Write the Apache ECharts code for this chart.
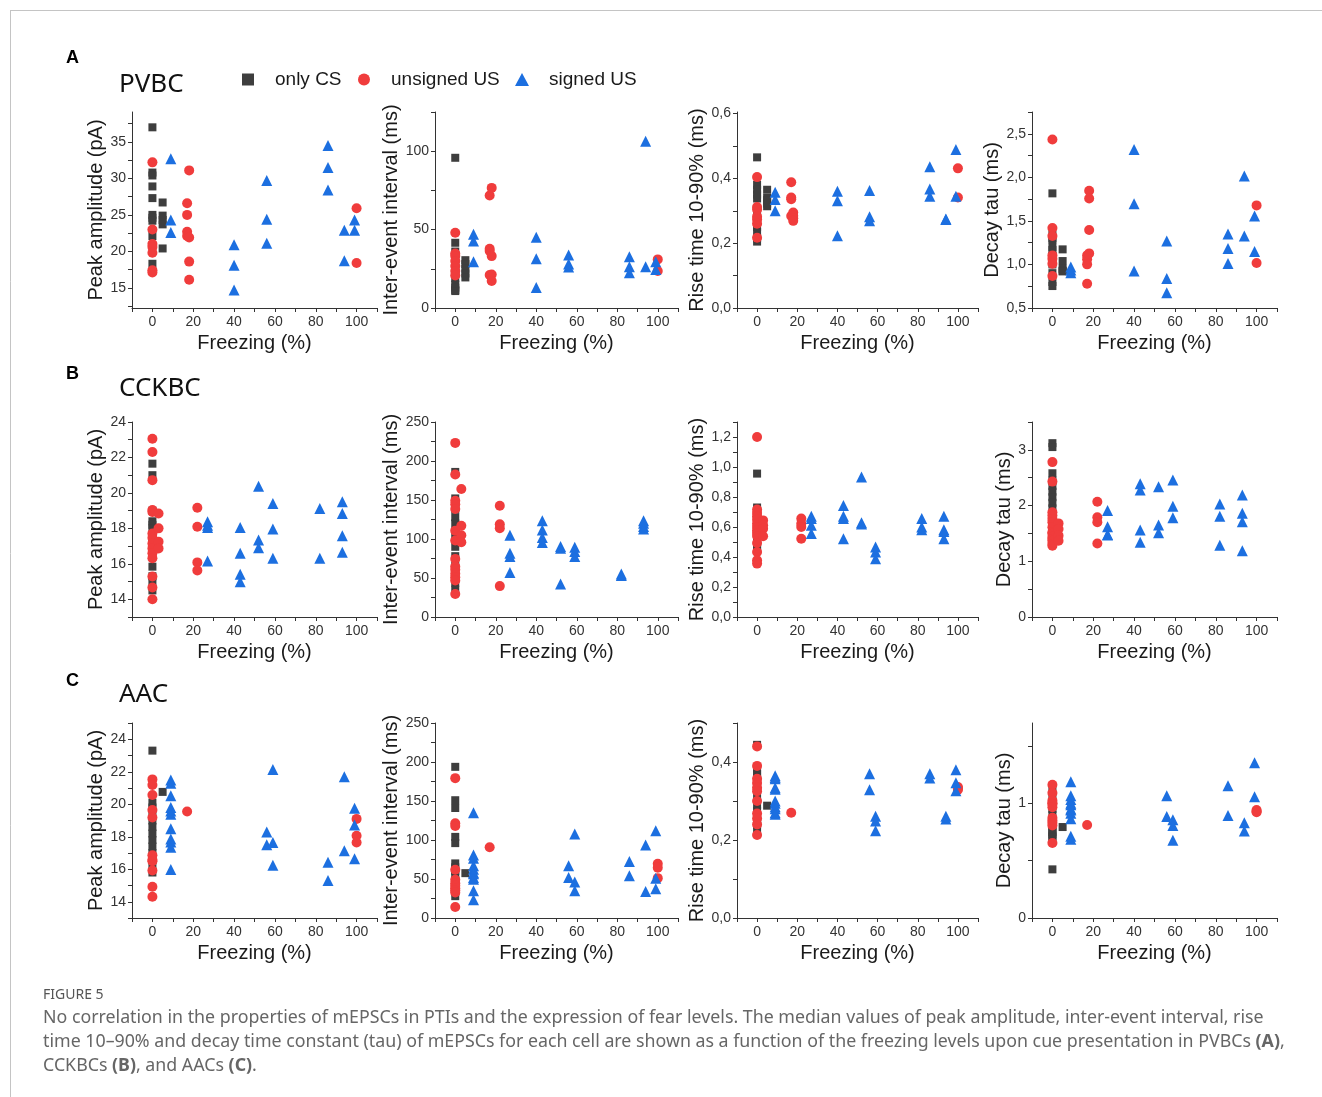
<!DOCTYPE html>
<html><head><meta charset="utf-8">
<script src="https://cdn.jsdelivr.net/npm/echarts@6/dist/echarts.min.js"></script>
<style>html,body{margin:0;padding:0;background:#fff}#c{width:1322px;height:1097px}</style>
</head><body><div id="c"></div>
<script>
// ---------- DATA (x = freezing %, y = value) ----------
// A: PVBC
const pv_amp_cs = [[0,37.0],[0,30.8],[0,30.4],[0,28.9],[0,27.3],[0,25.0],[0,24.6],[0,24.2],[0,22.1],[0,20.8],[0,18.3],[5,26.7],[5,24.9],[5,24.3],[5,23.7],[5,20.4]];
const pv_amp_us = [[0,32.2],[0,23.0],[0,21.0],[0,20.6],[0,19.8],[0,17.4],[0,17.1],[17,26.6],[17,25.0],[17,22.7],[17,22.1],[18,31.1],[18,21.9],[18,18.6],[18,16.1],[100,25.9],[100,18.4]];
const pv_amp_ss = [[9,32.7],[9,24.3],[9,22.6],[40,20.9],[40,18.1],[40,14.7],[56,29.7],[56,24.4],[56,21.1],[86,34.5],[86,31.5],[86,28.4],[94,22.9],[94,18.7],[99,24.3],[99,22.9]];

const pv_iei_cs = [[0,95.8],[0,41.6],[0,36],[0,31],[0,27],[0,23],[0,19],[0,15],[0,13],[0,11.5],[0,10.8],[5,30.5],[5,28],[5,25],[5,22],[5,19.5]];
const pv_iei_us = [[0,48.0],[0,34.8],[0,33.1],[0,30.0],[0,26.8],[0,23.6],[0,20.8],[17,71.8],[17,37.8],[17,36.3],[17,21.0],[18,76.6],[18,33.1],[18,21.4],[18,17.2],[100,31.0],[100,23.6]];
const pv_iei_ss = [[9,47.1],[9,42.7],[9,29.5],[40,45.2],[40,31.4],[40,13.0],[56,33.8],[56,28.0],[56,26.1],[86,32.7],[86,26.3],[86,22.5],[94,106.4],[94,26.3],[99,29.5],[99,24.6]];

const pv_rise_cs = [[0,0.465],[0,0.38],[0,0.365],[0,0.35],[0,0.338],[0,0.30],[0,0.27],[0,0.25],[0,0.235],[0,0.215],[0,0.205],[5,0.365],[5,0.34],[5,0.333],[5,0.322],[5,0.314]];
const pv_rise_us = [[0,0.404],[0,0.312],[0,0.304],[0,0.282],[0,0.273],[0,0.26],[0,0.217],[17,0.388],[17,0.341],[17,0.336],[17,0.284],[18,0.295],[18,0.285],[18,0.277],[18,0.269],[100,0.431],[100,0.341]];
const pv_rise_ss = [[9,0.357],[9,0.335],[9,0.300],[40,0.360],[40,0.331],[40,0.223],[56,0.363],[56,0.282],[56,0.269],[86,0.436],[86,0.367],[86,0.345],[94,0.273],[94,0.275],[99,0.489],[99,0.345]];

const pv_tau_cs = [[0,1.816],[0,1.345],[0,1.30],[0,1.288],[0,1.2],[0,1.165],[0,1.1],[0,1.0],[0,0.9],[0,0.798],[0,0.752],[5,1.173],[5,1.039],[5,0.95],[5,0.928],[5,0.92]];
const pv_tau_us = [[0,2.435],[0,1.418],[0,1.326],[0,1.104],[0,1.066],[0,1.009],[0,0.867],[17,1.104],[17,1.06],[17,1.001],[17,0.779],[18,1.846],[18,1.758],[18,1.395],[18,1.127],[100,1.678],[100,1.016]];
const pv_tau_ss = [[9,0.97],[9,0.936],[9,0.905],[40,2.32],[40,1.697],[40,0.924],[56,1.269],[56,0.84],[56,0.676],[86,1.349],[86,1.184],[86,1.012],[94,2.014],[94,1.326],[99,1.555],[99,1.15]];

// B: CCKBC
const cck_amp_cs = [[0,21.65],[0,21.0],[0,19.0],[0,18.4],[0,18.2],[0,18.0],[0,17.5],[0,17.2],[0,16.8],[0,16.5],[0,15.84],[0,15.3],[0,15.0],[0,14.5]];
const cck_amp_us = [[0,23.06],[0,22.31],[0,20.72],[0,19.03],[0,18.93],[0,17.71],[0,17.47],[0,17.15],[0,16.87],[0,16.59],[0,16.31],[0,15.28],[0,14.66],[0,14.0],[3,18.84],[3,18.0],[3,17.25],[3,16.87],[22,19.16],[22,18.09],[22,16.08],[22,15.63]];
const cck_amp_ss = [[27,18.37],[27,18.18],[27,18.05],[27,16.16],[43,18.05],[43,16.59],[43,15.41],[43,14.99],[52,20.38],[52,17.34],[52,16.91],[59,19.4],[59,17.96],[59,16.31],[82,19.12],[82,16.31],[93,19.5],[93,18.84],[93,17.58],[93,16.65]];

const cck_iei_cs = [[0,186],[0,152],[0,146],[0,138],[0,128],[0,120],[0,110],[0,100],[0,90],[0,78],[0,66],[0,55],[0,44],[0,35]];
const cck_iei_us = [[0,223.2],[0,182.7],[0,149],[0,144.4],[0,138.4],[0,110.7],[0,98],[0,74.5],[0,64.7],[0,60.5],[0,55.4],[0,51.1],[0,46.8],[0,29.4],[3,164],[3,117],[3,104.8],[3,95.8],[22,142.7],[22,118.8],[22,113.7],[22,39.6]];
const cck_iei_ss = [[27,104.8],[27,81.8],[27,77.5],[27,57.1],[43,123.5],[43,111.6],[43,101.8],[43,95.4],[52,90.3],[52,88.2],[52,42.2],[59,89.4],[59,83.9],[59,77.5],[82,55],[82,53.2],[93,123.5],[93,120.1],[93,116],[93,112.9]];

const cck_rise_cs = [[0,0.956],[0,0.73],[0,0.71],[0,0.69],[0,0.66],[0,0.64],[0,0.62],[0,0.6],[0,0.58],[0,0.55],[0,0.52],[0,0.5],[0,0.47],[0,0.45]];
const cck_rise_us = [[0,1.2],[0,0.716],[0,0.693],[0,0.671],[0,0.649],[0,0.622],[0,0.6],[0,0.578],[0,0.56],[0,0.54],[0,0.493],[0,0.433],[0,0.378],[0,0.356],[3,0.644],[3,0.611],[3,0.589],[3,0.538],[22,0.656],[22,0.622],[22,0.6],[22,0.522]];
const cck_rise_ss = [[27,0.671],[27,0.656],[27,0.611],[27,0.556],[43,0.744],[43,0.671],[43,0.656],[43,0.522],[52,0.933],[52,0.629],[52,0.62],[59,0.467],[59,0.433],[59,0.389],[82,0.656],[82,0.6],[82,0.582],[93,0.671],[93,0.582],[93,0.57],[93,0.522]];

const cck_tau_cs = [[0,3.12],[0,3.05],[0,2.58],[0,2.45],[0,2.35],[0,2.25],[0,2.15],[0,2.05],[0,1.95],[0,1.85],[0,1.75],[0,1.65],[0,1.55],[0,1.45]];
const cck_tau_us = [[0,2.78],[0,2.43],[0,1.88],[0,1.82],[0,1.76],[0,1.7],[0,1.61],[0,1.52],[0,1.5],[0,1.44],[0,1.4],[0,1.37],[0,1.31],[0,1.28],[3,1.68],[3,1.58],[3,1.46],[3,1.37],[22,2.07],[22,1.79],[22,1.70],[22,1.32]];
const cck_tau_ss = [[27,1.91],[27,1.62],[27,1.48],[27,1.47],[43,2.39],[43,2.28],[43,1.56],[43,1.34],[52,2.34],[52,1.65],[52,1.51],[59,2.46],[59,1.99],[59,1.78],[82,2.03],[82,1.81],[82,1.29],[93,2.19],[93,1.86],[93,1.71],[93,1.19]];

// C: AAC
const aac_amp_cs = [[0,23.3],[0,20.1],[0,19.8],[0,19.4],[0,19.0],[0,18.6],[0,18.2],[0,17.8],[0,17.4],[0,17.0],[0,16.6],[0,16.2],[0,15.8],[5,20.76]];
const aac_amp_us = [[0,21.53],[0,21.18],[0,20.57],[0,19.65],[0,19.18],[0,16.86],[0,16.59],[0,16.49],[0,15.92],[0,14.92],[0,14.31],[17,19.55],[100,19.1],[100,18.06],[100,17.65]];
const aac_amp_ss = [[9,21.49],[9,21.29],[9,20.53],[9,19.8],[9,19.59],[9,19.39],[9,18.49],[9,17.86],[9,17.67],[9,17.35],[9,15.98],[56,18.29],[56,17.51],[59,22.14],[59,17.65],[59,16.24],[86,16.43],[86,15.31],[94,21.69],[94,17.14],[99,19.76],[99,18.73],[99,16.65]];

const aac_iei_cs = [[0,193.8],[0,151],[0,141],[0,104],[0,96],[0,70],[0,65],[0,60],[0,55],[0,48],[0,40],[0,34],[0,28],[5,57.5]];
const aac_iei_us = [[0,179.3],[0,121.4],[0,118],[0,61.8],[0,49],[0,44.7],[0,41.3],[0,38.3],[0,35.5],[0,32.8],[0,14.1],[17,90.7],[100,69.4],[100,64.5],[100,51.1]];
const aac_iei_ss = [[9,135],[9,80.9],[9,76.7],[9,66.9],[9,62.6],[9,58],[9,56.6],[9,52],[9,49.8],[9,34.9],[9,23.4],[56,66.9],[56,52],[59,107.8],[59,46],[59,34.9],[86,72.4],[86,54.1],[94,93.7],[94,34.1],[99,112],[99,51.1],[99,37.5]];

const aac_rise_cs = [[0,0.444],[0,0.38],[0,0.37],[0,0.36],[0,0.35],[0,0.33],[0,0.31],[0,0.29],[0,0.275],[0,0.26],[0,0.25],[0,0.24],[0,0.228],[5,0.288]];
const aac_rise_us = [[0,0.44],[0,0.39],[0,0.357],[0,0.346],[0,0.334],[0,0.325],[0,0.3],[0,0.268],[0,0.255],[0,0.24],[0,0.213],[17,0.27],[100,0.336],[100,0.332],[100,0.329]];
const aac_rise_ss = [[9,0.365],[9,0.36],[9,0.357],[9,0.334],[9,0.33],[9,0.3],[9,0.294],[9,0.285],[9,0.28],[9,0.27],[9,0.266],[56,0.37],[56,0.329],[59,0.261],[59,0.249],[59,0.224],[86,0.37],[86,0.359],[94,0.261],[94,0.254],[99,0.38],[99,0.347],[99,0.326]];

const aac_tau_cs = [[0,1.11],[0,1.05],[0,1.0],[0,0.95],[0,0.9],[0,0.85],[0,0.8],[0,0.77],[0,0.75],[0,0.73],[0,0.71],[0,0.7],[0,0.424],[5,0.793]];
const aac_tau_us = [[0,1.161],[0,1.089],[0,1.023],[0,1.0],[0,0.994],[0,0.965],[0,0.873],[0,0.85],[0,0.83],[0,0.807],[0,0.654],[17,0.81],[100,0.942],[100,0.93],[100,0.922]];
const aac_tau_ss = [[9,1.187],[9,1.066],[9,1.032],[9,1.0],[9,0.988],[9,0.95],[9,0.942],[9,0.914],[9,0.865],[9,0.712],[9,0.686],[56,1.066],[56,0.885],[59,0.856],[59,0.807],[59,0.677],[86,1.153],[86,0.893],[94,0.83],[94,0.758],[99,1.354],[99,1.058]];

// ---------- TICKS / LABELS ----------
const xTicks = [-10,0,10,20,30,40,50,60,70,80,90,100,110];
const xLabels = [0,20,40,60,80,100];
const pvAmpTicks = [12.5,15,17.5,20,22.5,25,27.5,30,32.5,35,37.5];
const pvAmpLabels = [15,20,25,30,35];
const pvIeiTicks = [0,25,50,75,100,125];
const pvIeiLabels = [0,50,100];
const pvRiseTicks = [0,0.1,0.2,0.3,0.4,0.5,0.6];
const pvRiseLabels = [0,0.2,0.4,0.6];
const pvTauTicks = [0.5,0.75,1,1.25,1.5,1.75,2,2.25,2.5,2.75];
const pvTauLabels = [0.5,1,1.5,2,2.5];
const cckAmpTicks = [13,14,15,16,17,18,19,20,21,22,23,24];
const cckAmpLabels = [14,16,18,20,22,24];
const cckIeiTicks = [0,25,50,75,100,125,150,175,200,225,250];
const cckIeiLabels = [0,50,100,150,200,250];
const cckRiseTicks = [0,0.1,0.2,0.3,0.4,0.5,0.6,0.7,0.8,0.9,1.0,1.1,1.2,1.3];
const cckRiseLabels = [0,0.2,0.4,0.6,0.8,1.0,1.2];
const cckTauTicks = [0,0.5,1,1.5,2,2.5,3,3.5];
const cckTauLabels = [0,1,2,3];
const aacAmpTicks = [13,14,15,16,17,18,19,20,21,22,23,24,25];
const aacAmpLabels = [14,16,18,20,22,24];
const aacIeiTicks = [0,25,50,75,100,125,150,175,200,225,250];
const aacIeiLabels = [0,50,100,150,200,250];
const aacRiseTicks = [0,0.1,0.2,0.3,0.4,0.5];
const aacRiseLabels = [0,0.2,0.4];
const aacTauTicks = [0,0.5,1,1.5];
const aacTauLabels = [0,1];

const seriesNames = ['only CS','unsigned US','signed US'];
const yTitles = ['Peak amplitude (pA)','Inter-event interval (ms)','Rise time 10-90% (ms)','Decay tau (ms)'];

// ---------- LAYOUT ----------
const colLeft = [132, 435, 737, 1032];
const colWidth = [245, 243, 241, 245];
const rowTop = [112, 422, 723];
const rowHeight = [196, 195, 195];
const COLORS = ['#3e3e3e', '#f03c3c', '#1c6fe0'];
const SYMS = ['rect', 'circle', 'triangle'];
const SIZES = [8, 10, 11];
const FONT = 'Liberation Sans, Arial, sans-serif';

const panels = [
  {r:0,c:0,d:[pv_amp_cs,pv_amp_us,pv_amp_ss],min:12.24,max:39.1,t:pvAmpTicks,l:pvAmpLabels,dec:0,gap:25},
  {r:0,c:1,d:[pv_iei_cs,pv_iei_us,pv_iei_ss],min:0,max:125,t:pvIeiTicks,l:pvIeiLabels,dec:0,gap:31},
  {r:0,c:2,d:[pv_rise_cs,pv_rise_us,pv_rise_ss],min:0,max:0.605,t:pvRiseTicks,l:pvRiseLabels,dec:1,gap:30},
  {r:0,c:3,d:[pv_tau_cs,pv_tau_us,pv_tau_ss],min:0.5,max:2.75,t:pvTauTicks,l:pvTauLabels,dec:1,gap:29},
  {r:1,c:0,d:[cck_amp_cs,cck_amp_us,cck_amp_ss],min:13,max:24,t:cckAmpTicks,l:cckAmpLabels,dec:0,gap:25},
  {r:1,c:1,d:[cck_iei_cs,cck_iei_us,cck_iei_ss],min:0,max:250,t:cckIeiTicks,l:cckIeiLabels,dec:0,gap:31},
  {r:1,c:2,d:[cck_rise_cs,cck_rise_us,cck_rise_ss],min:0,max:1.3,t:cckRiseTicks,l:cckRiseLabels,dec:1,gap:30},
  {r:1,c:3,d:[cck_tau_cs,cck_tau_us,cck_tau_ss],min:0,max:3.5,t:cckTauTicks,l:cckTauLabels,dec:0,gap:17},
  {r:2,c:0,d:[aac_amp_cs,aac_amp_us,aac_amp_ss],min:13,max:25,t:aacAmpTicks,l:aacAmpLabels,dec:0,gap:25},
  {r:2,c:1,d:[aac_iei_cs,aac_iei_us,aac_iei_ss],min:0,max:250,t:aacIeiTicks,l:aacIeiLabels,dec:0,gap:31},
  {r:2,c:2,d:[aac_rise_cs,aac_rise_us,aac_rise_ss],min:0,max:0.5,t:aacRiseTicks,l:aacRiseLabels,dec:1,gap:30},
  {r:2,c:3,d:[aac_tau_cs,aac_tau_us,aac_tau_ss],min:0,max:1.7,t:aacTauTicks,l:aacTauLabels,dec:0,gap:17}
];

const grids = [], xAxes = [], yAxes = [], series = [];
const axisCommon = {
  axisLine: {show: true, onZero: false, lineStyle: {color: '#333', width: 1}},
  splitLine: {show: false},
  nameTextStyle: {fontSize: 20, color: '#1a1a1a', fontFamily: FONT}
};
panels.forEach((p, i) => {
  grids.push({left: colLeft[p.c], top: rowTop[p.r], width: colWidth[p.c], height: rowHeight[p.r], outerBoundsMode: 'none', containLabel: false});
  xAxes.push(Object.assign({}, axisCommon, {
    type: 'value', gridIndex: i, min: -10, max: 110,
    name: 'Freezing (%)', nameLocation: 'middle', nameGap: 25,
    axisTick: {show: true, inside: false, length: 4, customValues: xTicks, lineStyle: {color: '#333'}},
    axisLabel: {customValues: xLabels, margin: 7, fontSize: 14, color: '#333', fontFamily: FONT}
  }));
  yAxes.push(Object.assign({}, axisCommon, {
    type: 'value', gridIndex: i, min: p.min, max: p.max,
    name: yTitles[p.c], nameLocation: 'middle', nameGap: p.gap,
    axisTick: {show: true, inside: false, length: 4, customValues: p.t, lineStyle: {color: '#333'}},
    axisLabel: {customValues: p.l, margin: 6, fontSize: 14, color: '#333', fontFamily: FONT,
      formatter: (v) => v.toFixed(p.dec).replace('.', ',')}
  }));
  for (let s = 0; s < 3; s++) {
    series.push({
      type: 'scatter', name: seriesNames[s], xAxisIndex: i, yAxisIndex: i,
      data: p.d[s], symbol: SYMS[s], symbolSize: SIZES[s],
      itemStyle: {color: COLORS[s], opacity: 1}, emphasis: {disabled: true}, silent: true
    });
  }
});

const legendText = {fontSize: 19, color: '#1a1a1a', fontFamily: FONT};
const legends = [
  {left: 242, top: 70, padding: 0, itemWidth: 12, itemHeight: 12, data: [{name: 'only CS', icon: 'rect'}], textStyle: Object.assign({padding: [0, 0, 0, 16]}, legendText), selectedMode: false},
  {left: 358, top: 70, padding: 0, itemWidth: 12, itemHeight: 12, data: [{name: 'unsigned US', icon: 'circle'}], textStyle: Object.assign({padding: [0, 0, 0, 16]}, legendText), selectedMode: false},
  {left: 515, top: 70, padding: 0, itemWidth: 14, itemHeight: 13, data: [{name: 'signed US', icon: 'triangle'}], textStyle: Object.assign({padding: [0, 0, 0, 15]}, legendText), selectedMode: false}
];

const CAP_FONT = 'Noto Sans, Open Sans, sans-serif';
const capStyle = {fontSize: 17.8, fontFamily: CAP_FONT, fill: '#666', verticalAlign: 'middle'};
const capRich = {b: {fontWeight: 'bold', fontSize: 17.8, fontFamily: CAP_FONT, fill: '#666'}};
const graphic = [
  {type: 'line', shape: {x1: 10, y1: 10.5, x2: 1322, y2: 10.5}, style: {stroke: '#c4c4c4', lineWidth: 1}},
  {type: 'line', shape: {x1: 10.5, y1: 10, x2: 10.5, y2: 1097}, style: {stroke: '#c4c4c4', lineWidth: 1}},
  {type: 'text', x: 66, y: 58, style: {text: 'A', fontSize: 18, fontWeight: 'bold', fontFamily: FONT, fill: '#000', verticalAlign: 'middle'}},
  {type: 'text', x: 66, y: 374, style: {text: 'B', fontSize: 18, fontWeight: 'bold', fontFamily: FONT, fill: '#000', verticalAlign: 'middle'}},
  {type: 'text', x: 66, y: 681, style: {text: 'C', fontSize: 18, fontWeight: 'bold', fontFamily: FONT, fill: '#000', verticalAlign: 'middle'}},
  {type: 'text', x: 119, y: 85, style: {text: 'PVBC', fontSize: 26, fontFamily: 'Noto Sans, sans-serif', fill: '#111', verticalAlign: 'middle'}},
  {type: 'text', x: 119, y: 389, style: {text: 'CCKBC', fontSize: 26, fontFamily: 'Noto Sans, sans-serif', fill: '#111', verticalAlign: 'middle'}},
  {type: 'text', x: 119, y: 695, style: {text: 'AAC', fontSize: 26, fontFamily: 'Noto Sans, sans-serif', fill: '#111', verticalAlign: 'middle'}},
  {type: 'text', x: 43, y: 995, style: {text: 'FIGURE 5', fontSize: 14, fontFamily: CAP_FONT, fill: '#555', verticalAlign: 'middle'}},
  {type: 'text', x: 43, y: 1018, style: Object.assign({}, capStyle, {text: 'No correlation in the properties of mEPSCs in PTIs and the expression of fear levels. The median values of peak amplitude, inter-event interval, rise'})},
  {type: 'text', x: 43, y: 1042, style: Object.assign({}, capStyle, {text: 'time 10\u201390% and decay time constant (tau) of mEPSCs for each cell are shown as a function of the freezing levels upon cue presentation in PVBCs {b|(A)},', rich: capRich})},
  {type: 'text', x: 43, y: 1066, style: Object.assign({}, capStyle, {text: 'CCKBCs {b|(B)}, and AACs {b|(C)}.', rich: capRich})}
];

const chart = echarts.init(document.getElementById('c'), null, {renderer: 'canvas'});
chart.setOption({
  animation: false,
  backgroundColor: '#fff',
  legend: legends,
  grid: grids, xAxis: xAxes, yAxis: yAxes, series: series, graphic: graphic
});
</script></body></html>
